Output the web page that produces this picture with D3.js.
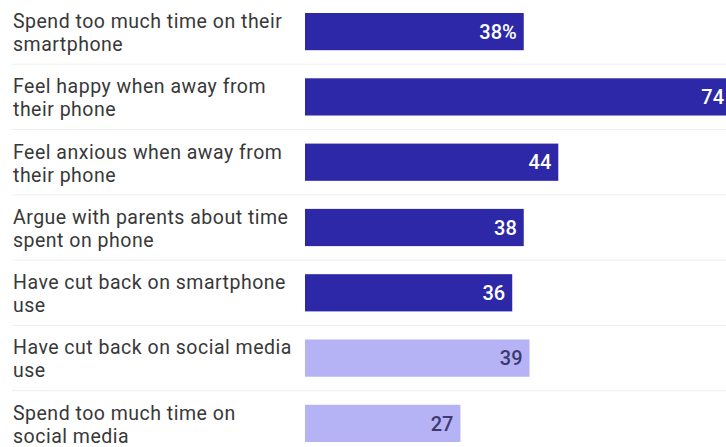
<!DOCTYPE html>
<html>
<head>
<meta charset="utf-8">
<script src="https://cdn.jsdelivr.net/npm/d3@7"></script>
<style>
  body { margin: 0; background: #fff; }
  text { font-family: Roboto, "Noto Sans", sans-serif; }
</style>
</head>
<body>
<script>
var categories = [
  "Spend too much time on their\nsmartphone",
  "Feel happy when away from\ntheir phone",
  "Feel anxious when away from\ntheir phone",
  "Argue with parents about time\nspent on phone",
  "Have cut back on smartphone\nuse",
  "Have cut back on social media\nuse",
  "Spend too much time on\nsocial media"
];
var values = [38, 74, 44, 38, 36, 39, 27];
var valueLabels = ["38%", "74", "44", "38", "36", "39", "27"];
var groups = ["phone", "phone", "phone", "phone", "phone", "social", "social"];

var width = 726;
var height = 447;

var rows = categories.map((c, i) => ({
  label: c,
  value: values[i],
  text: valueLabels[i],
  group: groups[i],
}));

var x = d3.scaleLinear().domain([0, 74]).range([305, 731]);
var y = d3
  .scaleBand()
  .domain(categories)
  .range([13, 442])
  .paddingInner(0.43)
  .paddingOuter(0);

var color = d3.scaleOrdinal().domain(["phone", "social"]).range(["#2d28a7", "#b6b2f6"]);
var textColor = d3.scaleOrdinal().domain(["phone", "social"]).range(["#ffffff", "#3d3b6e"]);

const svg = d3
  .create("svg")
  .attr("width", width)
  .attr("height", height);

var gap = y.step() - y.bandwidth();

// faint separators between rows
svg
  .selectAll(".sep")
  .data(categories.slice(1))
  .join("line")
  .attr("class", "sep")
  .attr("x1", 12)
  .attr("x2", width)
  .attr("y1", (d) => y(d) - gap / 2)
  .attr("y2", (d) => y(d) - gap / 2)
  .attr("stroke", "#efefef")
  .attr("stroke-width", 1);

svg
  .selectAll(".bar")
  .data(rows)
  .join("rect")
  .attr("class", "bar")
  .attr("x", x(0))
  .attr("y", (d) => y(d.label))
  .attr("width", (d) => x(d.value) - x(0))
  .attr("height", y.bandwidth())
  .attr("fill", (d) => color(d.group));

svg
  .selectAll(".val")
  .data(rows)
  .join("text")
  .attr("class", "val")
  .attr("x", (d) => x(d.value) - 7)
  .attr("y", (d) => y(d.label) + y.bandwidth() / 2)
  .attr("dy", "0.36em")
  .attr("text-anchor", "end")
  .attr("font-size", 20)
  .attr("font-weight", 500)
  .attr("fill", (d) => textColor(d.group))
  .text((d) => d.text);

// category labels, two lines each
var labels = svg
  .selectAll(".cat")
  .data(rows)
  .join("text")
  .attr("class", "cat")
  .attr("font-size", 19.5)
  .attr("letter-spacing", 0.5)
  .attr("fill", "#383838");

labels
  .selectAll("tspan")
  .data((d) => d.label.split("\n").map((t, i) => ({ t, i, row: d.label })))
  .join("tspan")
  .attr("x", 13)
  .attr("y", (d) => y(d.row) + 15 + d.i * 23)
  .text((d) => d.t);

d3.select("body").append(() => svg.node());
</script>
</body>
</html>
